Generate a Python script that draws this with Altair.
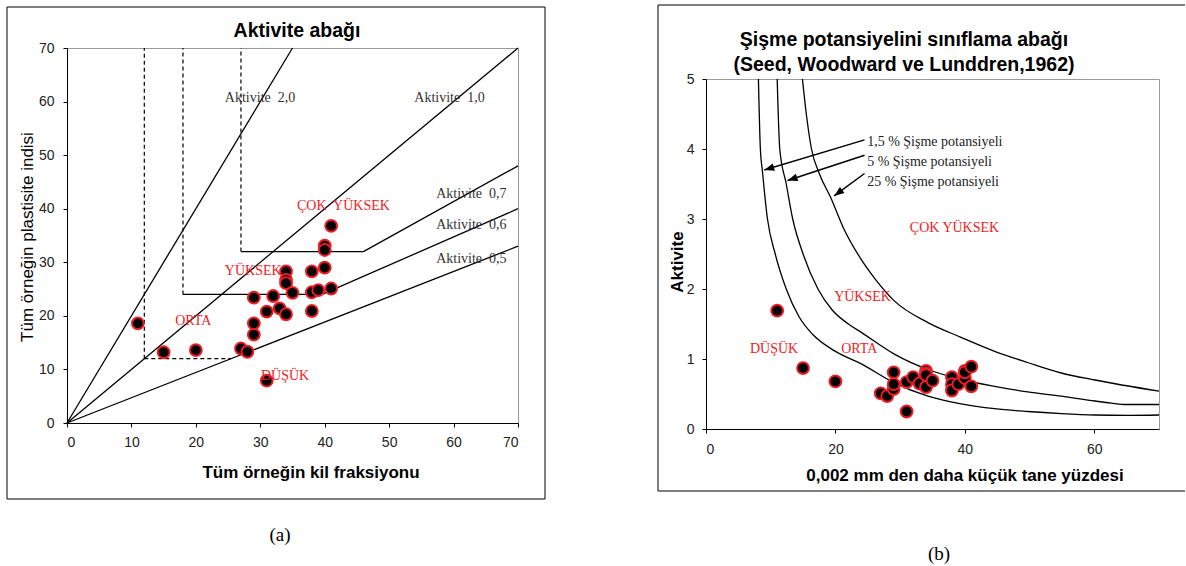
import math
import altair as alt
import pandas as pd

# ---------------- (a) Aktivite abağı : data ----------------
clay_a = [11, 15, 20, 27, 28, 29, 29, 29, 31, 31, 32, 33, 34, 34, 34, 34, 35, 38, 38, 38, 39, 40, 40, 40, 41, 41]
pi_a = [18.6, 13.2, 13.6, 13.9, 13.3, 16.5, 18.6, 23.4, 7.9, 20.8, 23.7, 21.4, 20.3, 28.3, 26.7, 26.1,
        24.3, 28.3, 24.4, 20.9, 24.8, 29.0, 33.1, 32.3, 25.1, 36.8]

solid_x1 = [0, 0, 0, 18, 39.6, 27, 46]
solid_y1 = [0, 0, 0, 24, 24, 32, 32]
solid_x2 = [35, 70, 70, 39.6, 70, 46, 70]
solid_y2 = [70, 70, 33, 24, 40, 32, 48]

dash_x1 = [12, 12, 18, 27]
dash_y1 = [12, 12, 24, 32]
dash_x2 = [12, 25.5, 18, 27]
dash_y2 = [70, 12, 70, 70]

act_text = ["Aktivite\u00a0 2,0", "Aktivite\u00a0 1,0", "Aktivite\u00a0 0,7", "Aktivite\u00a0 0,6", "Aktivite\u00a0 0,5"]
act_x = [24.5, 53.9, 57.3, 57.3, 57.3]
act_y = [60.7, 60.7, 42.7, 37.0, 30.6]

cls_a_text = ["ÇOK\u00a0 YÜKSEK", "YÜKSEK", "ORTA", "DÜŞÜK"]
cls_a_x = [35.7, 24.5, 16.8, 30.1]
cls_a_y = [40.5, 28.4, 19.0, 8.8]

ticks_a = [0, 10, 20, 30, 40, 50, 60, 70]

# ---------------- (b) Şişme potansiyeli : data ----------------
clay_b = [11, 15, 20, 27, 28, 29, 29, 29, 31, 31, 32, 33, 34, 34, 34, 34, 35, 38, 38, 38, 39, 40, 40, 40, 41, 41]
act_b = [1.69, 0.87, 0.68, 0.51, 0.47, 0.57, 0.64, 0.81, 0.25, 0.67, 0.74, 0.65, 0.60, 0.83, 0.79, 0.77,
         0.69, 0.74, 0.64, 0.55, 0.64, 0.73, 0.83, 0.81, 0.61, 0.89]

c15_x = [8.1, 8.4, 8.7, 9.5, 10.7, 12.4, 14.4, 16.5, 19.8, 24.0, 29.1, 34.3, 39.4, 44.6, 49.7, 54.9, 60.1, 65.2, 70]
c15_a = [5, 4, 3.7, 3.0, 2.5, 2.0, 1.6, 1.35, 1.12, 0.93, 0.66, 0.47, 0.36, 0.29, 0.25, 0.22, 0.20, 0.195, 0.20]
c5_x = [11.0, 11.4, 12.4, 13.4, 15.0, 17.3, 19.5, 22.0, 24.0, 29.1, 34.3, 39.4, 44.6, 49.7, 54.9, 60.1, 62.6, 65.0, 70]
c5_a = [5, 4, 3.5, 3.0, 2.5, 2.0, 1.7, 1.5, 1.38, 1.07, 0.85, 0.71, 0.61, 0.53, 0.47, 0.40, 0.37, 0.35, 0.35]
c25_x = [14.9, 15.5, 16.3, 17.5, 19.3, 21.2, 24.0, 26.0, 29.1, 34.3, 39.4, 44.6, 49.7, 54.9, 60.1, 70]
c25_a = [5, 4.5, 4.0, 3.65, 3.3, 2.88, 2.42, 2.16, 1.83, 1.52, 1.31, 1.11, 0.95, 0.80, 0.70, 0.54]

arr_x1 = [24.5, 24.5, 24.5]
arr_a1 = [4.13, 3.91, 3.65]
arr_x2 = [9.0, 12.6, 19.8]
arr_a2 = [3.70, 3.55, 3.33]

sw_text = ["1,5 % Şişme potansiyeli", "5 % Şişme potansiyeli", "25 % Şişme potansiyeli"]
sw_x = [24.9, 24.9, 24.9]
sw_a = [4.10, 3.81, 3.53]

cls_b_text = ["ÇOK YÜKSEK", "YÜKSEK", "DÜŞÜK", "ORTA"]
cls_b_x = [31.5, 19.8, 6.8, 20.9]
cls_b_a = [2.87, 1.89, 1.14, 1.14]

ticks_bx = [0, 20, 40, 60]
ticks_by = [0, 1, 2, 3, 4, 5]

# ---------------- styling ----------------
W1, H1 = 451, 375
W2, H2 = 453, 350
SERIF = "Liberation Serif"
SANS = "Liberation Sans"
RED = "#ee1c25"
dummy = pd.DataFrame({"k": [0]})


def axis(values, pad):
    return alt.Axis(values=values, title=None, grid=False, labelFont=SANS, labelFontSize=14,
                    labelColor="#222", domainColor="#000", domainWidth=1, tickColor="#000",
                    tickSize=4, labelPadding=pad)


def ptext(txt, x, y, size, bold=False, font=SANS, angle=0):
    kw = dict(text=txt, font=font, fontSize=size, color="black", align="center", baseline="middle")
    if bold:
        kw["fontWeight"] = "bold"
    if angle:
        kw["angle"] = angle
    return alt.Chart(dummy).mark_text(**kw).encode(x=alt.value(x), y=alt.value(y))


# ---------------- chart (a) ----------------
xa = alt.Scale(domain=[0, 70], nice=False)
ya = alt.Scale(domain=[0, 70], nice=False)
XAX_A = axis(ticks_a, 8)
YAX_A = axis(ticks_a, 9)


def ex_a(f):
    return alt.X(f, scale=xa, axis=XAX_A)


def ey_a(f):
    return alt.Y(f, scale=ya, axis=YAX_A)


frame_a = alt.Chart(dummy).mark_rect(filled=False, stroke="black", strokeWidth=1).encode(
    x=alt.value(-60), x2=alt.value(478), y=alt.value(-41), y2=alt.value(451))

solid_df = pd.DataFrame({"x": solid_x1, "y": solid_y1, "x2": solid_x2, "y2": solid_y2})
lines_a = alt.Chart(solid_df).mark_rule(color="black", strokeWidth=1.3).encode(
    x=ex_a("x:Q"), y=ey_a("y:Q"), x2="x2:Q", y2="y2:Q")

dash_df = pd.DataFrame({"x": dash_x1, "y": dash_y1, "x2": dash_x2, "y2": dash_y2})
dash_a = alt.Chart(dash_df).mark_rule(color="black", strokeWidth=1.2, strokeDash=[4, 3]).encode(
    x=ex_a("x:Q"), y=ey_a("y:Q"), x2="x2:Q", y2="y2:Q")

pts_a = alt.Chart(pd.DataFrame({"x": clay_a, "y": pi_a})).mark_circle(
    fill="black", stroke=RED, strokeWidth=2, size=140, opacity=1).encode(
    x=ex_a("x:Q"), y=ey_a("y:Q"))

act_lbl = alt.Chart(pd.DataFrame({"t": act_text, "x": act_x, "y": act_y})).mark_text(
    font=SERIF, fontSize=14, align="left", baseline="middle", color="#333").encode(
    x=ex_a("x:Q"), y=ey_a("y:Q"), text="t:N")

cls_lbl_a = alt.Chart(pd.DataFrame({"t": cls_a_text, "x": cls_a_x, "y": cls_a_y})).mark_text(
    font=SERIF, fontSize=14, align="left", baseline="middle", color=RED).encode(
    x=ex_a("x:Q"), y=ey_a("y:Q"), text="t:N")

left = alt.layer(
    lines_a, frame_a, dash_a, pts_a, act_lbl, cls_lbl_a,
    ptext("Aktivite abağı", 230, -17, 19.5, bold=True),
    ptext("Tüm örneğin kil fraksiyonu", 244, 425, 17, bold=True),
    ptext("Tüm örneğin plastisite indisi", -39, 189, 17, angle=270),
    ptext("(a)", 213, 487, 19, font=SERIF),
).properties(width=W1, height=H1)

# ---------------- chart (b) ----------------
xb = alt.Scale(domain=[0, 70], nice=False)
yb = alt.Scale(domain=[0, 5], nice=False)
XAX_B = axis(ticks_bx, 9)
YAX_B = axis(ticks_by, 8)


def ex_b(f):
    return alt.X(f, scale=xb, axis=XAX_B)


def ey_b(f):
    return alt.Y(f, scale=yb, axis=YAX_B)


frame_b = alt.Chart(dummy).mark_rule(color="black", strokeWidth=1).encode(
    x=alt.value(-48), x2=alt.value(479), y=alt.value(-74))
frame_b2 = alt.Chart(dummy).mark_rule(color="black", strokeWidth=1).encode(
    x=alt.value(-48), x2=alt.value(479), y=alt.value(412))
frame_b3 = alt.Chart(dummy).mark_rule(color="black", strokeWidth=1).encode(
    x=alt.value(-48), y=alt.value(-74), y2=alt.value(412))

curve_df = pd.concat([
    pd.DataFrame({"c": "1,5", "x": c15_x, "a": c15_a, "i": list(range(len(c15_x)))}),
    pd.DataFrame({"c": "5", "x": c5_x, "a": c5_a, "i": list(range(len(c5_x)))}),
    pd.DataFrame({"c": "25", "x": c25_x, "a": c25_a, "i": list(range(len(c25_x)))}),
])
lines_b = alt.Chart(curve_df).mark_line(color="black", strokeWidth=1.3, interpolate="monotone").encode(
    x=ex_b("x:Q"), y=ey_b("a:Q"), detail="c:N", order="i:Q")

ang = []
for x1, a1, x2, a2 in zip(arr_x1, arr_a1, arr_x2, arr_a2):
    dx = (x2 - x1) * W2 / 70.0
    dy = -(a2 - a1) * H2 / 5.0
    ang.append(math.degrees(math.atan2(dx, -dy)) % 360)
arrow_df = pd.DataFrame({"x1": arr_x1, "a1": arr_a1, "x2": arr_x2, "a2": arr_a2, "ang": ang})

arrows = alt.Chart(arrow_df).mark_rule(color="black", strokeWidth=1.5).encode(
    x=ex_b("x1:Q"), y=ey_b("a1:Q"), x2="x2:Q", y2="a2:Q")
heads = alt.Chart(arrow_df).mark_point(shape="M0,0L0.38,1L-0.38,1Z", filled=True, color="black",
                                       size=400, opacity=1).encode(
    x=ex_b("x2:Q"), y=ey_b("a2:Q"), angle=alt.Angle("ang:Q", scale=None))

pts_b = alt.Chart(pd.DataFrame({"x": clay_b, "a": act_b})).mark_circle(
    fill="black", stroke=RED, strokeWidth=2, size=140, opacity=1).encode(
    x=ex_b("x:Q"), y=ey_b("a:Q"))

sw_lbl = alt.Chart(pd.DataFrame({"t": sw_text, "x": sw_x, "a": sw_a})).mark_text(
    font=SERIF, fontSize=14, align="left", baseline="middle", color="#222").encode(
    x=ex_b("x:Q"), y=ey_b("a:Q"), text="t:N")

cls_lbl_b = alt.Chart(pd.DataFrame({"t": cls_b_text, "x": cls_b_x, "a": cls_b_a})).mark_text(
    font=SERIF, fontSize=14, align="left", baseline="middle", color=RED).encode(
    x=ex_b("x:Q"), y=ey_b("a:Q"), text="t:N")

right = alt.layer(
    lines_b, frame_b, frame_b2, frame_b3, arrows, heads, pts_b, sw_lbl, cls_lbl_b,
    ptext("Şişme potansiyelini sınıflama abağı", 198, -39, 19.5, bold=True),
    ptext("(Seed, Woodward ve Lunddren,1962)", 198, -14, 19.5, bold=True),
    ptext("0,002 mm den daha küçük tane yüzdesi", 259, 397, 17, bold=True),
    ptext("Aktivite", -28, 183, 17, bold=True, angle=270),
    ptext("(b)", 233, 475, 19, font=SERIF),
).properties(width=W2, height=H2)

spacer = alt.Chart(dummy).mark_text(text=" ").encode(x=alt.value(0), y=alt.value(0)).properties(
    width=10, height=31, view=alt.ViewBackground(strokeOpacity=0))

right_col = alt.vconcat(spacer, right, spacing=0, bounds="flush")

chart = alt.hconcat(left, right_col, spacing=188, bounds="flush").properties(
    padding={"left": 6, "top": 4, "right": 0, "bottom": 0}
).configure_view(stroke="#9a9a9a", strokeWidth=1)

chart.save("out.html", embed_options={"renderer": "svg", "actions": False})
